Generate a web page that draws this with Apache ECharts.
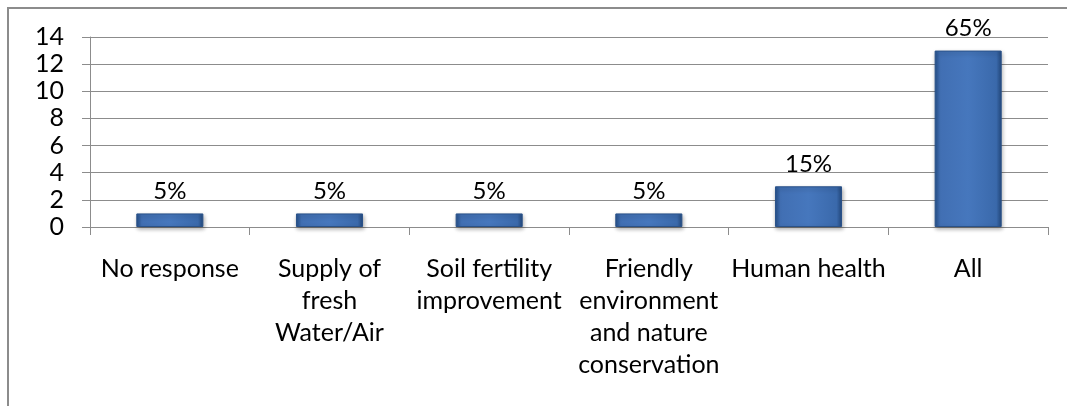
<!DOCTYPE html>
<html>
<head>
<meta charset="utf-8">
<style>
  html, body { margin: 0; padding: 0; background: #fff; }
  #chart { width: 1067px; height: 406px; }
</style>
<script src="https://cdn.jsdelivr.net/npm/echarts@6/dist/echarts.min.js"></script>
</head>
<body>
<div id="chart"></div>
<script>
// categories as printed under the axis (line breaks as in the original)
const categories = [
  'No response',
  'Supply of\nfresh\nWater/Air',
  'Soil fertility\nimprovement',
  'Friendly\nenvironment\nand nature\nconservation',
  'Human health',
  'All'
]
const counts = [1, 1, 1, 1, 3, 13]
const pctLabels = ['5%', '5%', '5%', '5%', '15%', '65%']
const yTicks = [0, 2, 4, 6, 8, 10, 12, 14]

const FONT = 'Lato, "Open Sans", sans-serif'
const GREY = '#8c8c8c'

const chart = echarts.init(document.getElementById('chart'))

chart.setOption({
  animation: false,
  textStyle: { fontFamily: FONT },
  // outer frame of the chart object (cut off at right/bottom)
  graphic: [{
    type: 'rect',
    silent: true,
    shape: { x: 8, y: 8, width: 1200, height: 600 },
    style: { fill: null, stroke: GREY, lineWidth: 2 }
  }],
  grid: {
    left: 90,
    right: 19,
    top: 37,
    bottom: 179
  },
  xAxis: {
    type: 'category',
    data: categories,
    axisLine: { lineStyle: { color: GREY, width: 1 } },
    axisTick: { show: true, length: 8, lineStyle: { color: GREY } },
    axisLabel: {
      interval: 0,
      margin: 26,
      color: '#000',
      fontSize: 25,
      lineHeight: 32,
      fontFamily: FONT
    }
  },
  yAxis: {
    type: 'value',
    min: yTicks[0],
    max: yTicks[yTicks.length - 1],
    interval: 2,
    axisLine: { show: true, lineStyle: { color: GREY, width: 1 } },
    axisTick: { show: true, length: 8, lineStyle: { color: GREY } },
    splitLine: { lineStyle: { color: GREY, width: 1 } },
    axisLabel: {
      margin: 26,
      color: '#000',
      fontSize: 25,
      fontFamily: FONT
    }
  },
  series: [
    {
      type: 'bar',
      data: counts,
      barWidth: '42%',
      itemStyle: {
        color: new echarts.graphic.LinearGradient(0, 0, 1, 0, [
          { offset: 0, color: '#25508a' },
          { offset: 0.08, color: '#416fb3' },
          { offset: 0.5, color: '#4677bd' },
          { offset: 0.92, color: '#3a69ab' },
          { offset: 1, color: '#23497d' }
        ]),
        borderColor: '#2a5289',
        borderWidth: 1,
        shadowColor: 'rgba(0,0,0,0.3)',
        shadowBlur: 4,
        shadowOffsetX: 1,
        shadowOffsetY: 2
      },
      label: {
        show: true,
        position: 'top',
        distance: 10,
        color: '#000',
        fontSize: 24,
        fontFamily: FONT,
        formatter: p => pctLabels[p.dataIndex]
      }
    }
  ]
})
</script>
</body>
</html>
